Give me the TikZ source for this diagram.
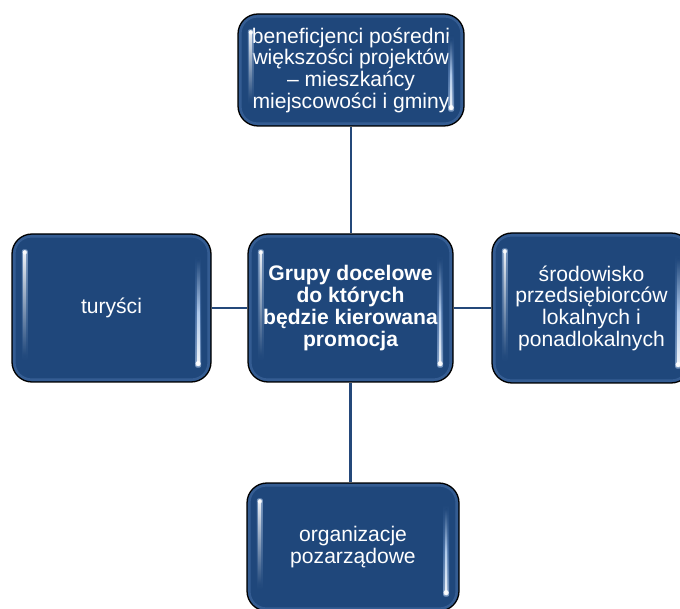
\documentclass[tikz,border=0pt]{standalone}
\usepackage{fontspec}
\setmainfont{Liberation Sans}
\usetikzlibrary{calc}
\definecolor{boxblue}{HTML}{1F477B}
\definecolor{glowblue}{HTML}{BBD3F2}
\definecolor{rimblue}{HTML}{5E86BD}
\definecolor{linkblue}{HTML}{24487A}
\begin{document}
\begin{tikzpicture}[x=1pt,y=-1pt,
  box/.style={draw=black, line width=1.3pt, fill=boxblue, rounded corners=20pt,
    text=white, align=center, font=\fontsize{21.1}{21.7}\selectfont, inner sep=0pt},
  link/.style={draw=linkblue, line width=2.8pt}]
\useasboundingbox (0,0) rectangle (680,609);

\node[box, minimum width=226pt, minimum height=112pt] (nTop) at (351,70)
  {beneficjenci pośredni\\większości projektów\\– mieszkańcy\\miejscowości i gminy};
\node[box, minimum width=205pt, minimum height=148pt, font=\fontsize{21.1}{21.7}\selectfont\bfseries] (nCenter) at (350.5,308)
  {Grupy docelowe\\do których\\będzie kierowana\\promocja};
\node[box, minimum width=199pt, minimum height=148pt] (nLeft) at (111.5,308) {turyści};
\node[box, minimum width=199pt, minimum height=150pt] (nRight) at (591.5,308)
  {środowisko\\przedsiębiorców\\lokalnych i\\ponadlokalnych};
\node[box, minimum width=212pt, minimum height=128pt] (nBottom) at (353,547)
  {organizacje\\pozarządowe};

% glossy details
\foreach \n in {nTop,nCenter,nLeft,nRight,nBottom}{
  \draw[rimblue, opacity=0.35, line width=2.5pt, rounded corners=17pt]
    ($(\n.north west)+(3,3)$) rectangle ($(\n.south east)+(-3,-3)$);
  % left bar
  \shade[top color=glowblue, bottom color=boxblue, rounded corners=2pt, opacity=0.55]
    ($(\n.north west)+(10.5,16)$) rectangle ($(\n.south west)+(16.5,-22)$);
  \shade[top color=white, bottom color=boxblue, rounded corners=1pt, opacity=0.9]
    ($(\n.north west)+(12.3,17)$) rectangle ($(\n.south west)+(14.7,-26)$);
  % right bar
  \shade[top color=boxblue, bottom color=glowblue, middle color=rimblue, rounded corners=2pt, opacity=0.6]
    ($(\n.north east)+(-16.5,22)$) rectangle ($(\n.south east)+(-10.5,-15)$);
  \shade[top color=boxblue, bottom color=white, middle color=glowblue, rounded corners=1pt, opacity=0.9]
    ($(\n.north east)+(-14.7,26)$) rectangle ($(\n.south east)+(-12.3,-17)$);
  \fill[white, opacity=0.9] ($(\n.south east)+(-13.5,-19)$) circle (2.6pt);
  \fill[white, opacity=0.75] ($(\n.north west)+(13.5,19)$) circle (2.2pt);
}

\draw[link] (nTop.south) -- (nTop.south |- nCenter.north);
\draw[link] (nCenter.south) -- (nCenter.south |- nBottom.north);
\draw[link] (nLeft.east) -- (nCenter.west);
\draw[link] (nCenter.east) -- (nRight.west);
\end{tikzpicture}
\end{document}
